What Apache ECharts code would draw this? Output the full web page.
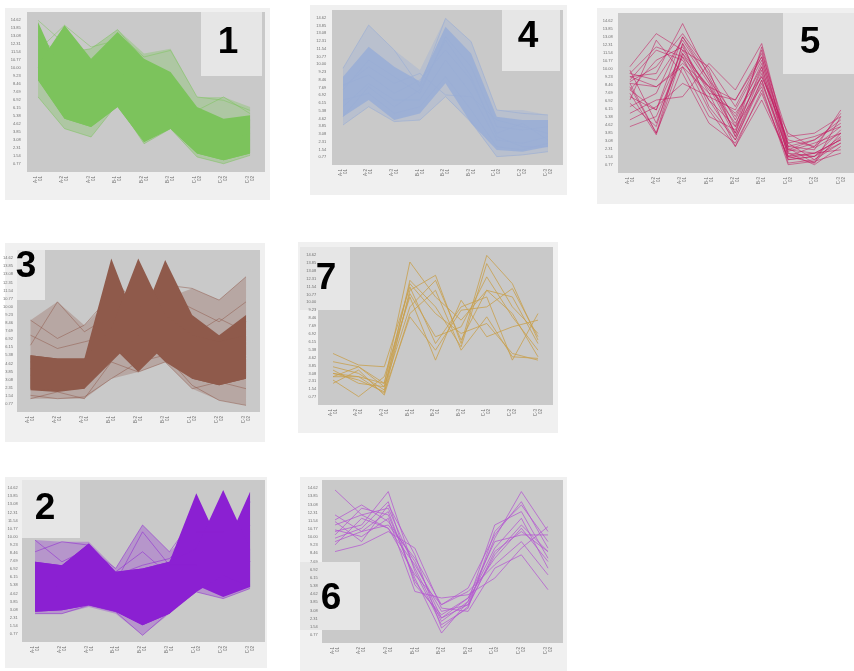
<!DOCTYPE html>
<html lang="en">
<head>
    <meta charset="UTF-8">
    <title>Clusters</title>
    <script src="https://cdn.jsdelivr.net/npm/echarts@6/dist/echarts.min.js"></script>
    <style>
        *{
            padding: 0;
            margin: 0;
        }
        html, body{
            width: 100%;
            height: 100%;
            background: #fff;
        }
        .echarts{
            width: 854px;
            height: 671px;
        }
    </style>
</head>
<body>
<div class="echarts"></div>
<script>
    // sample labels under every panel
    let xLabels = ['A-1\n01', 'A-2\n01', 'A-3\n01', 'B-1\n01', 'B-2\n01', 'B-3\n01', 'C-1\n02', 'C-2\n02', 'C-3\n02'];

    // cluster 1 (green): two dense families + faint spread + stray profiles
    let p1Lo = [57.3, 33.3, 28.1, 40.6, 18.8, 27.1, 11.5, 7.3, 11.5];
    let p1HiA = [93.8, 57.0, 60.0, 80.0, 62.0, 55.0, 35.0, 30.0, 33.0];
    let p1HiB = [67.0, 91.7, 70.8, 87.5, 70.8, 62.5, 40.6, 33.3, 35.4];
    let p1FadeLo = [46.9, 27.1, 21.9, 42.7, 17.7, 27.1, 9.4, 5.2, 10.4];
    let p1FadeHi = [70.0, 75.0, 77.1, 89.0, 74.0, 77.1, 46.9, 46.9, 40.6];
    let p1Lines = [
        [94.8, 80.2, 65.6, 86.5, 71.9, 76.0, 46.9, 44.8, 38.5],
        [57.3, 49.0, 44.8, 55.2, 44.8, 49.0, 28.1, 24.0, 28.1],
        [46.9, 27.1, 21.9, 42.7, 17.7, 27.1, 9.4, 5.2, 10.4],
        [76.0, 91.7, 78.1, 82.3, 65.6, 59.4, 38.5, 46.9, 36.5],
        [84.4, 65.6, 55.2, 76.0, 53.1, 44.8, 24.0, 19.8, 24.0],
        [65.6, 38.5, 34.4, 49.0, 26.0, 32.3, 15.6, 11.5, 13.5],
        [82.3, 74.0, 77.1, 89.0, 69.8, 61.5, 36.5, 30.2, 32.3],
        [69.8, 55.2, 49.0, 65.6, 44.8, 40.6, 19.8, 15.6, 19.8]
    ];

    // cluster 4 (blue grey)
    let p4Lo = [31.2, 41.9, 29.0, 33.3, 52.7, 26.9, 9.7, 8.6, 11.8];
    let p4Hi = [57.0, 76.3, 63.4, 53.8, 89.2, 72.0, 31.2, 29.0, 29.0];
    let p4FadeLo = [25.8, 37.6, 28.0, 29.0, 44.1, 26.9, 5.4, 6.5, 8.6];
    let p4FadeHi = [62.4, 90.3, 74.2, 61.3, 94.6, 79.6, 35.5, 35.5, 32.3];
    let p4Lines = [
        [62.4, 90.3, 74.2, 50.5, 94.6, 79.6, 35.5, 33.3, 32.3],
        [25.8, 37.6, 28.0, 29.0, 44.1, 28.0, 5.4, 6.5, 8.6],
        [48.4, 67.7, 57.0, 46.2, 82.8, 63.4, 24.7, 22.6, 24.7],
        [37.6, 52.7, 41.9, 41.9, 67.7, 46.2, 16.1, 14.0, 18.3],
        [51.6, 58.1, 46.2, 54.8, 74.2, 54.8, 20.4, 26.9, 16.1],
        [41.9, 46.2, 33.3, 37.6, 57.0, 35.5, 11.8, 9.7, 14.0],
        [50.5, 63.4, 52.7, 59.1, 45.2, 44.1, 29.0, 24.7, 20.4],
        [31.2, 50.5, 37.6, 48.4, 80.6, 57.0, 18.3, 11.8, 11.8]
    ];

    // cluster 5 (crimson)
    let p5Lines = [
        [66.4, 87.1, 76.8, 66.4, 41.5, 72.6, 16.6, 20.7, 33.2],
        [60.2, 62.2, 93.4, 60.2, 29.0, 76.8, 12.4, 10.4, 27.0],
        [53.9, 24.9, 80.9, 56.0, 24.9, 66.4, 10.4, 6.2, 24.9],
        [47.7, 39.4, 76.8, 51.9, 37.3, 60.2, 20.7, 16.6, 37.3],
        [58.1, 76.8, 70.5, 45.6, 20.7, 56.0, 14.5, 12.4, 20.7],
        [29.0, 35.3, 72.6, 39.4, 16.6, 51.9, 8.3, 10.4, 22.8],
        [41.5, 49.8, 85.1, 62.2, 33.2, 68.5, 18.7, 22.8, 29.0],
        [56.0, 53.9, 66.4, 35.3, 27.0, 64.3, 6.2, 8.3, 18.7],
        [51.9, 70.5, 78.8, 49.8, 45.6, 74.7, 22.8, 24.9, 35.3],
        [64.3, 31.1, 74.7, 53.9, 22.8, 58.1, 12.4, 5.2, 16.6],
        [45.6, 83.0, 62.2, 31.1, 18.7, 49.8, 9.3, 12.4, 14.5],
        [37.3, 45.6, 47.7, 68.5, 51.9, 80.9, 16.6, 14.5, 39.4],
        [62.2, 58.1, 83.0, 58.1, 35.3, 66.4, 13.5, 18.7, 24.9],
        [49.8, 23.9, 74.7, 45.6, 29.0, 53.9, 5.2, 7.3, 12.4],
        [33.2, 41.5, 56.0, 47.7, 39.4, 70.5, 10.4, 16.6, 29.0],
        [57.1, 66.4, 87.1, 64.3, 22.8, 62.2, 18.7, 8.3, 21.8],
        [60.2, 53.9, 68.5, 53.9, 45.6, 72.6, 14.5, 20.7, 31.1],
        [43.6, 29.0, 80.9, 41.5, 20.7, 58.1, 8.3, 10.4, 18.7],
        [56.0, 24.9, 66.4, 49.8, 16.6, 45.6, 10.4, 12.4, 20.7],
        [51.9, 39.4, 85.1, 58.1, 24.9, 78.8, 15.6, 6.2, 35.3],
        [62.2, 78.8, 72.6, 53.9, 31.1, 60.2, 24.9, 15.6, 24.9]
    ];

    // cluster 3 (brown): two families, peak at B-1/B-3 or at B-2
    let p3LoA = [13.4, 12.4, 14.4, 41.2, 24.7, 41.2, 20.6, 16.5, 20.6];
    let p3HiA = [35.1, 33.0, 33.0, 94.8, 51.5, 93.8, 59.8, 47.4, 59.8];
    let p3LoB = [14.4, 13.4, 14.4, 30.9, 47.4, 30.9, 20.6, 16.5, 20.6];
    let p3HiB = [35.1, 33.0, 33.0, 51.5, 94.8, 59.8, 47.4, 43.3, 47.4];
    let p3FadeLo = [8.2, 8.2, 8.2, 20.6, 24.7, 30.9, 14.4, 7.2, 4.1];
    let p3FadeHi = [56.7, 68.0, 53.6, 70.0, 65.0, 70.0, 76.3, 69.1, 83.5];
    let p3Lines = [
        [41.2, 68.0, 49.5, 59.8, 47.4, 72.2, 63.9, 55.7, 68.0],
        [56.7, 45.4, 53.6, 72.2, 63.9, 78.4, 76.3, 69.1, 83.5],
        [10.3, 8.2, 9.3, 20.6, 30.9, 35.1, 16.5, 7.2, 4.1],
        [47.4, 39.2, 43.3, 47.4, 37.1, 41.2, 47.4, 57.7, 49.5],
        [8.2, 12.4, 8.2, 30.9, 24.7, 30.9, 14.4, 18.6, 14.4],
        [26.8, 22.7, 24.7, 84.5, 63.9, 80.4, 37.1, 30.9, 47.4],
        [22.7, 18.6, 20.6, 57.7, 84.5, 68.0, 26.8, 22.7, 30.9],
        [30.9, 26.8, 28.9, 68.0, 47.4, 86.6, 51.5, 37.1, 55.7]
    ];

    // cluster 7 (tan)
    let p7Lines = [
        [17.9, 24.2, 13.7, 90.5, 68.4, 53.7, 72.6, 57.9, 30.5],
        [20.0, 17.9, 7.4, 72.6, 82.1, 38.9, 94.7, 76.8, 41.1],
        [24.2, 20.0, 9.5, 78.9, 62.1, 36.8, 89.5, 62.1, 45.3],
        [32.6, 25.3, 24.2, 74.7, 38.9, 62.1, 68.4, 28.4, 57.9],
        [15.8, 5.3, 17.9, 68.4, 28.4, 66.3, 43.2, 49.5, 53.7],
        [13.7, 22.1, 6.3, 57.9, 72.6, 34.7, 55.8, 30.5, 29.5],
        [22.1, 13.7, 11.6, 70.5, 43.2, 49.5, 81.1, 55.8, 34.7],
        [27.4, 24.2, 11.6, 62.1, 78.9, 41.1, 72.6, 68.4, 38.9],
        [17.9, 17.9, 13.7, 76.8, 57.9, 45.3, 51.6, 32.6, 28.4],
        [20.0, 15.8, 8.4, 55.8, 34.7, 60.0, 62.1, 73.7, 43.2]
    ];

    // cluster 2 (purple): two families in the C samples
    let p2LoA = [18.6, 19.6, 22.7, 18.6, 10.3, 17.5, 35.1, 27.8, 34.0];
    let p2HiA = [49.5, 47.4, 60.8, 43.3, 45.4, 49.5, 91.8, 55.7, 92.8];
    let p2LoB = [18.6, 19.6, 22.7, 18.6, 10.3, 17.5, 30.9, 41.2, 34.0];
    let p2HiB = [49.5, 47.4, 60.8, 43.3, 45.4, 49.5, 57.7, 93.8, 57.7];
    let p2FadeLo = [17.5, 17.5, 21.6, 17.5, 4.1, 17.5, 30.9, 26.8, 33.0];
    let p2FadeHi = [62.9, 61.9, 61.9, 45.4, 72.2, 55.7, 70.0, 70.0, 70.0];
    let p2Lines = [
        [62.9, 49.5, 57.7, 45.4, 72.2, 55.7, 78.4, 57.7, 68.0],
        [17.5, 17.5, 22.7, 18.6, 4.1, 18.6, 30.9, 26.8, 33.0],
        [55.7, 61.9, 59.8, 41.2, 47.4, 51.5, 68.0, 68.0, 57.7],
        [37.1, 30.9, 41.2, 37.1, 68.0, 47.4, 47.4, 41.2, 47.4],
        [26.8, 24.7, 30.9, 26.8, 16.5, 22.7, 39.2, 33.0, 35.1],
        [43.3, 41.2, 51.5, 35.1, 26.8, 37.1, 84.5, 47.4, 86.6],
        [30.9, 35.1, 47.4, 30.9, 14.4, 28.9, 53.6, 84.5, 49.5],
        [47.4, 45.4, 37.1, 43.3, 55.7, 41.2, 61.9, 51.5, 72.2]
    ];

    // cluster 6 (orchid)
    let p6Lines = [
        [93.9, 78.6, 70.4, 48.0, 19.4, 23.5, 54.1, 72.4, 56.1],
        [75.5, 84.7, 74.5, 50.0, 15.3, 23.5, 64.3, 92.9, 68.4],
        [68.4, 72.4, 92.9, 43.9, 11.2, 21.4, 68.4, 84.7, 62.2],
        [66.3, 82.7, 78.6, 39.8, 6.1, 25.5, 72.4, 80.6, 52.0],
        [62.2, 68.4, 72.4, 52.0, 23.5, 31.6, 48.0, 62.2, 41.8],
        [56.1, 60.2, 68.4, 58.2, 21.4, 19.4, 45.9, 54.1, 32.7],
        [64.3, 70.4, 86.7, 35.7, 17.3, 27.6, 62.2, 66.3, 66.3],
        [72.4, 78.6, 82.7, 45.9, 13.3, 25.5, 58.2, 76.5, 45.9],
        [69.4, 65.3, 76.5, 31.6, 27.6, 29.6, 39.8, 58.2, 71.4],
        [74.5, 62.2, 84.7, 54.1, 9.2, 22.4, 56.1, 68.4, 56.1],
        [60.2, 76.5, 70.4, 41.8, 23.5, 33.7, 66.3, 86.7, 58.2],
        [78.6, 68.4, 80.6, 37.8, 15.3, 27.6, 52.0, 70.4, 50.0]
    ];

    // panel frames: grid, outer box, grey plot, label box, label position, digit
    let panels = [
        {grid: [24.8, 12, 238.5, 160], outer: [5, 8, 265, 192], plot: [27, 12, 238, 160], tag: [201, 12, 61, 64], at: [228, 43], name: '1'},
        {grid: [330.2, 10, 230.6, 155], outer: [310, 5, 257, 190], plot: [332, 10, 231, 155], tag: [502, 10, 58, 61], at: [528, 37], name: '4'},
        {grid: [616.7, 13, 239.6, 160], outer: [597, 8, 257, 196], plot: [618, 13, 236, 160], tag: [783, 13, 71, 61], at: [810, 43], name: '5'},
        {grid: [16.5, 250, 243, 162], outer: [5, 243, 260, 199], plot: [17, 250, 243, 162], tag: [17, 250, 28, 50], at: [26, 267], name: '3'},
        {grid: [320.2, 247, 230.6, 158], outer: [298, 242, 260, 191], plot: [318, 247, 235, 158], tag: [300, 247, 50, 63], at: [326, 279], name: '7'},
        {grid: [21.6, 480, 241.9, 162], outer: [5, 477, 262, 191], plot: [22, 480, 243, 162], tag: [22, 480, 58, 58], at: [45, 509], name: '2'},
        {grid: [321.7, 480, 239.6, 163], outer: [300, 477, 267, 194], plot: [322, 480, 241, 163], tag: [300, 562, 60, 68], at: [331, 599], name: '6'}
    ];

    function lineSeries(idx, rows, color, op) {
        return rows.map(r => ({
            type: 'line', xAxisIndex: idx, yAxisIndex: idx, data: r,
            symbol: 'none', silent: true, z: 3,
            lineStyle: {color: color, width: 1, opacity: op}
        }));
    }

    // filled region between two read-off profiles (stacked: lower + height)
    function bandSeries(idx, lo, hi, color, op, key) {
        return [
            {type: 'line', xAxisIndex: idx, yAxisIndex: idx, stack: key, data: lo,
                symbol: 'none', silent: true, lineStyle: {opacity: 0}},
            {type: 'line', xAxisIndex: idx, yAxisIndex: idx, stack: key,
                data: hi.map((h, i) => +(h - lo[i]).toFixed(1)),
                symbol: 'none', silent: true, lineStyle: {opacity: 0},
                areaStyle: {color: color, opacity: op}}
        ];
    }

    window.onload = function () {
        let main = document.querySelector('.echarts');
        let myCharts = echarts.init(main);

        let grid = [], xAxis = [], yAxis = [], graphic = [];
        panels.forEach((p, i) => {
            grid.push({left: p.grid[0], top: p.grid[1], width: p.grid[2], height: p.grid[3], show: false});
            xAxis.push({
                type: 'category', gridIndex: i, data: xLabels, boundaryGap: true,
                axisLine: {show: false}, axisTick: {show: false},
                axisLabel: {rotate: 90, fontSize: 4.5, color: '#707070', margin: 4, interval: 0, lineHeight: 5}
            });
            yAxis.push({
                type: 'value', gridIndex: i, min: 0, max: 100, interval: 5,
                axisLine: {show: false}, axisTick: {show: false}, splitLine: {show: false},
                axisLabel: {fontSize: 4, color: '#707070', margin: 4, showMinLabel: false, showMaxLabel: false,
                    formatter: v => (v / 6.5).toFixed(2)}
            });
            graphic.push({type: 'rect', z: -5, shape: {x: p.outer[0], y: p.outer[1], width: p.outer[2], height: p.outer[3]},
                style: {fill: '#f0f0f0'}, silent: true});
            graphic.push({type: 'rect', z: -4, shape: {x: p.plot[0], y: p.plot[1], width: p.plot[2], height: p.plot[3]},
                style: {fill: '#c9c9c9'}, silent: true});
            graphic.push({type: 'rect', z: -3, shape: {x: p.tag[0], y: p.tag[1], width: p.tag[2], height: p.tag[3]},
                style: {fill: '#e6e6e6'}, silent: true});
            graphic.push({type: 'text', z: 20, x: p.at[0], y: p.at[1], silent: true,
                style: {text: p.name, fill: '#000', font: 'bold 37px "Liberation Sans"',
                    textAlign: 'center', textVerticalAlign: 'middle'}});
        });

        let series = [].concat(
            bandSeries(0, p1FadeLo, p1FadeHi, '#7cc35c', 0.35, 'c1f'),
            bandSeries(0, p1Lo, p1HiA, '#7cc35c', 1, 'c1a'),
            bandSeries(0, p1Lo, p1HiB, '#7cc35c', 1, 'c1b'),
            lineSeries(0, p1Lines, '#7cc35c', 0.5),
            bandSeries(1, p4FadeLo, p4FadeHi, '#9aaed6', 0.35, 'c4f'),
            bandSeries(1, p4Lo, p4Hi, '#9aaed6', 0.9, 'c4'),
            lineSeries(1, p4Lines, '#9aaed6', 0.6),
            lineSeries(2, p5Lines, '#c2185e', 0.55),
            bandSeries(3, p3FadeLo, p3FadeHi, '#8f5a4b', 0.3, 'c3f'),
            bandSeries(3, p3LoA, p3HiA, '#8f5a4b', 1, 'c3a'),
            bandSeries(3, p3LoB, p3HiB, '#8f5a4b', 1, 'c3b'),
            lineSeries(3, p3Lines, '#8f5a4b', 0.5),
            lineSeries(4, p7Lines, '#c8a04e', 0.8),
            bandSeries(5, p2FadeLo, p2FadeHi, '#8b20d2', 0.3, 'c2f'),
            bandSeries(5, p2LoA, p2HiA, '#8b20d2', 1, 'c2a'),
            bandSeries(5, p2LoB, p2HiB, '#8b20d2', 1, 'c2b'),
            lineSeries(5, p2Lines, '#8b20d2', 0.5),
            lineSeries(6, p6Lines, '#b457d0', 0.75)
        );

        let option = {
            backgroundColor: '#fff',
            animation: false,
            grid, xAxis, yAxis,
            graphic: {elements: graphic},
            series
        };
        myCharts.setOption(option);
    }
</script>
</body>
</html>
